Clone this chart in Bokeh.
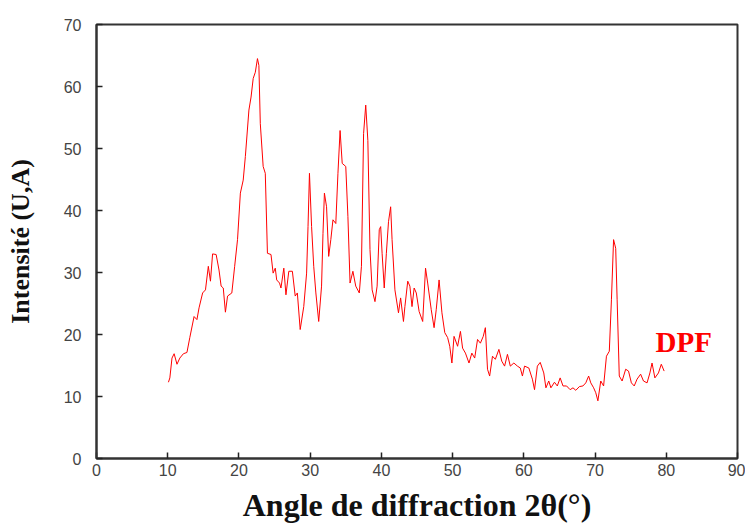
from bokeh.plotting import figure
from bokeh.models import Label, FixedTicker
from bokeh.embed import file_html
from bokeh.resources import INLINE

angle = [10.1, 10.3, 10.6, 10.9, 11.3, 11.7, 12.2, 12.7, 13.1, 13.7, 14.1, 14.4, 14.9, 15.3, 15.7, 16.0,
         16.3, 16.8, 17.2, 17.5, 17.8, 18.1, 18.4, 19.0, 19.4, 19.8, 20.2, 20.6, 20.9, 21.4, 21.7, 22.0,
         22.3, 22.6, 22.8, 23.0, 23.4, 23.7, 24.0, 24.5, 24.8, 25.1, 25.3, 25.7, 25.9, 26.3, 26.6, 27.0,
         27.5, 27.9, 28.2, 28.6, 29.1, 29.5, 29.7, 29.9, 30.2, 30.5, 30.8, 31.2, 31.6, 31.8, 32.0, 32.3,
         32.6, 32.9, 33.2, 33.6, 33.9, 34.2, 34.5, 35.0, 35.3, 35.6, 36.0, 36.4, 36.9, 37.2, 37.5, 37.8,
         38.1, 38.4, 38.7, 39.1, 39.4, 39.7, 39.9, 40.1, 40.4, 40.7, 41.0, 41.3, 41.5, 41.9, 42.4, 42.7,
         43.1, 43.3, 43.7, 44.0, 44.3, 44.6, 44.9, 45.3, 45.8, 46.2, 46.5, 47.0, 47.4, 47.7, 48.1, 48.5,
         48.9, 49.3, 49.6, 49.9, 50.2, 50.7, 51.1, 51.4, 51.8, 52.3, 52.7, 53.1, 53.5, 53.9, 54.3, 54.6,
         54.9, 55.2, 55.6, 56.0, 56.5, 56.9, 57.3, 57.7, 58.1, 58.6, 59.1, 59.5, 59.8, 60.1, 60.7, 61.2,
         61.5, 61.9, 62.3, 62.8, 63.1, 63.5, 63.8, 64.3, 64.7, 65.1, 65.5, 66.0, 66.5, 66.9, 67.3, 67.8,
         68.3, 68.7, 69.1, 69.4, 69.8, 70.1, 70.4, 70.8, 71.2, 71.6, 72.0, 72.3, 72.6, 72.9, 73.1, 73.4,
         73.8, 74.3, 74.7, 75.1, 75.5, 75.9, 76.4, 76.8, 77.3, 77.7, 78.0, 78.4, 78.9, 79.3, 79.7]
intensity = [12.3, 13.0, 16.2, 16.9, 15.2, 16.2, 16.9, 17.1, 19.5, 22.9, 22.4, 24.3, 26.7, 27.2, 31.0, 28.6,
             33.0, 32.9, 30.4, 27.8, 27.5, 23.6, 26.2, 26.7, 31.0, 35.3, 42.8, 44.9, 48.7, 56.2, 58.3, 61.3,
             62.3, 64.5, 63.4, 54.0, 47.1, 46.0, 33.1, 32.9, 29.9, 30.7, 28.8, 28.3, 27.5, 30.7, 26.4, 30.2,
             30.2, 26.2, 26.7, 20.8, 24.5, 29.9, 37.4, 46.0, 37.4, 31.0, 26.7, 22.1, 27.8, 36.3, 42.8, 40.6,
             32.6, 35.3, 38.5, 37.9, 46.0, 52.9, 47.6, 47.1, 39.0, 28.3, 30.2, 27.8, 26.7, 31.0, 52.4, 57.0,
             51.3, 33.7, 27.2, 25.3, 27.8, 36.9, 37.4, 33.1, 27.5, 33.1, 38.2, 40.6, 35.3, 27.2, 23.5, 25.9,
             22.1, 24.5, 28.6, 27.8, 24.5, 27.5, 26.7, 23.7, 22.1, 30.7, 28.3, 24.0, 21.1, 24.0, 28.8, 23.5,
             20.3, 19.5, 18.1, 15.4, 19.7, 18.1, 20.5, 17.8, 17.0, 15.4, 17.0, 16.2, 19.2, 18.6, 19.7, 21.1,
             14.4, 13.3, 16.5, 16.0, 17.6, 15.7, 14.9, 16.8, 14.9, 15.4, 14.9, 14.6, 13.3, 14.9, 14.6, 12.8,
             11.1, 14.9, 15.5, 13.8, 11.4, 12.5, 11.4, 12.3, 11.7, 13.0, 11.7, 11.7, 11.1, 11.4, 11.0, 11.6,
             11.7, 12.2, 13.3, 12.2, 11.4, 10.6, 9.3, 12.5, 11.7, 16.5, 17.3, 25.6, 35.3, 33.9, 25.6, 13.3,
             12.5, 14.4, 14.1, 12.2, 11.7, 12.8, 13.6, 12.5, 12.2, 13.8, 15.4, 13.0, 13.8, 15.2, 14.1]

x_ticks = [0, 10, 20, 30, 40, 50, 60, 70, 80, 90]
y_ticks = [0, 10, 20, 30, 40, 50, 60, 70]
series_name = "DPF"

p = figure(width=745, height=525, x_range=(0, 90), y_range=(0, 70),
           output_backend="svg", toolbar_location=None,
           min_border_left=96, min_border_right=8, min_border_top=24, min_border_bottom=67)

p.line(angle, intensity, line_color="#ff0000", line_width=1)

p.add_layout(Label(x=78.5, y=18.8, text=series_name, text_color="#ff0000",
                   text_font="Liberation Serif", text_font_style="bold",
                   text_font_size="29px", text_baseline="middle"))

p.grid.visible = False
p.outline_line_color = "#333333"
p.outline_line_width = 2
p.background_fill_color = "white"
p.border_fill_color = "white"

for ax, ticks in ((p.xaxis, x_ticks), (p.yaxis, y_ticks)):
    ax.ticker = FixedTicker(ticks=ticks)
    ax.major_tick_in = 6
    ax.major_tick_out = 0
    ax.minor_tick_line_color = None
    ax.major_tick_line_color = "#222222"
    ax.major_tick_line_width = 1.5
    ax.axis_line_color = "#333333"
    ax.axis_line_width = 2
    ax.major_label_text_font = "Liberation Sans"
    ax.major_label_text_font_size = "16px"
    ax.major_label_text_color = "#444444"
    ax.axis_label_text_font = "Liberation Serif"
    ax.axis_label_text_font_style = "bold"
    ax.axis_label_text_color = "#111111"

p.xaxis.axis_label = "Angle de diffraction 2θ(°)"
p.xaxis.axis_label_text_font_size = "32px"
p.xaxis.major_label_standoff = 5
p.xaxis.axis_label_standoff = 8

p.yaxis.axis_label = "Intensité (U,A)"
p.yaxis.axis_label_text_font_size = "26px"
p.yaxis.major_label_standoff = 15
p.yaxis.axis_label_standoff = 26

open("out.html", "w").write(file_html(p, INLINE))
